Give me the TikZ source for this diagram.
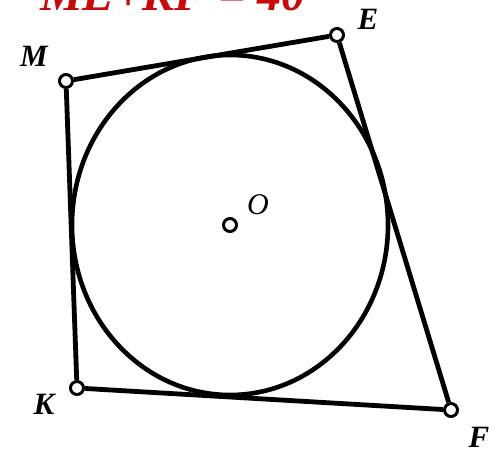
\documentclass[tikz,border=0pt]{standalone}
\usepackage{fontspec}
\setmainfont{Liberation Serif}
\definecolor{titlered}{RGB}{200,10,10}
\begin{document}
\begin{tikzpicture}[x=1pt,y=-1pt,
  vtx/.style={circle,draw=black,fill=white,line width=3pt,minimum size=13pt,inner sep=0pt},
  side/.style={line width=4.8pt,black},
  lbl/.style={font=\fontsize{31}{33}\selectfont\bfseries\itshape,inner sep=0pt},
  olbl/.style={font=\fontsize{30}{32}\selectfont\itshape,inner sep=0pt}]
\useasboundingbox (0,0) rectangle (494,449);
\node[anchor=base west,inner sep=0pt,text=titlered,font=\fontsize{48}{50}\selectfont\bfseries\itshape] (title) at (40,11) {ME+KF = 40};
\draw[line width=4.6pt] (230,225) ellipse [x radius=158, y radius=170];
\node[vtx] (M) at (66,81) {};
\node[vtx] (E) at (337,35) {};
\node[vtx] (F) at (451,410) {};
\node[vtx] (K) at (77,388) {};
\node[vtx,minimum size=13pt] (O) at (230,225) {};
\draw[side] (M) -- (E);
\draw[side] (E) -- (F);
\draw[side] (F) -- (K);
\draw[side] (K) -- (M);
\node[lbl] (lM) at (34,56) {M};
\node[lbl] (lE) at (368,19) {E};
\node[lbl] (lK) at (44,404) {K};
\node[lbl] (lF) at (479,437) {F};
\node[olbl] (lO) at (258,205) {O};
\end{tikzpicture}
\end{document}
